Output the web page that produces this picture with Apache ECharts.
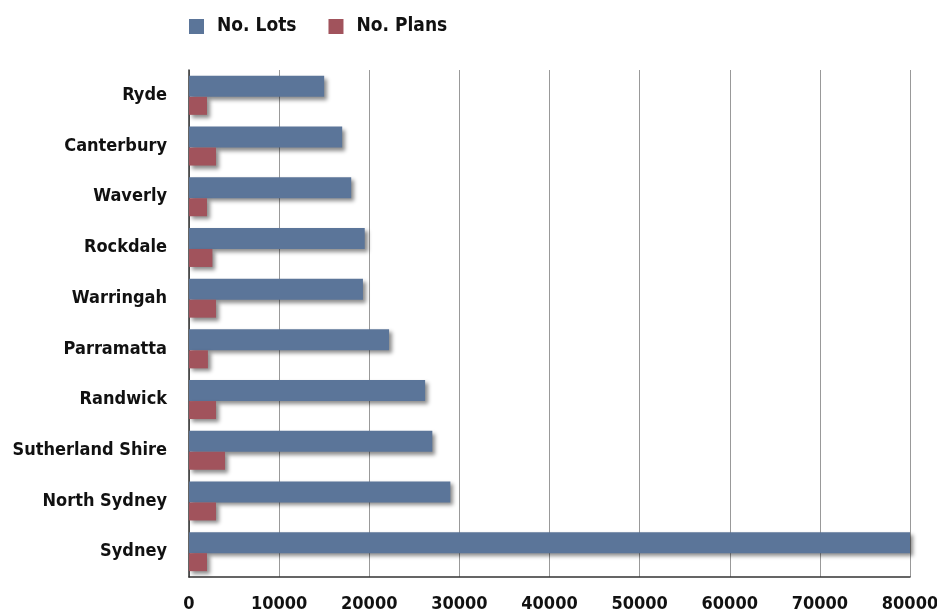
<!DOCTYPE html>
<html><head><meta charset="utf-8">
<script src="https://cdn.jsdelivr.net/npm/echarts@6/dist/echarts.min.js"></script>
<style>html,body{margin:0;padding:0;background:#fff}#c{width:937px;height:613px}</style>
</head><body><div id="c"></div>
<script>
const categories = ['Ryde','Canterbury','Waverly','Rockdale','Warringah','Parramatta','Randwick','Sutherland Shire','North Sydney','Sydney'];
const lots = [15000,17000,18000,19500,19300,22200,26200,27000,29000,80000];
const plans = [2000,3000,2000,2600,3000,2100,3000,4000,3000,2000];
const xTicks = [0,10000,20000,30000,40000,50000,60000,70000,80000];

const FONT = '"DejaVu Sans Condensed","Liberation Sans Narrow",sans-serif';
const chart = echarts.init(document.getElementById('c'));
const shadow = {shadowColor:'rgba(0,0,0,0.45)',shadowBlur:4,shadowOffsetX:3,shadowOffsetY:3};
chart.setOption({
  animation:false,
  legend:{top:12,left:184,itemWidth:15,itemHeight:15,itemGap:32,
    textStyle:{fontFamily:FONT,fontWeight:'bold',fontSize:19,color:'#111',padding:[0,0,0,8]},
    data:[{name:'No. Lots',icon:'rect'},{name:'No. Plans',icon:'rect'}]},
  grid:{left:189,right:27,top:70,bottom:36,containLabel:false,outerBoundsMode:'none'},
  xAxis:{type:'value',min:xTicks[0],max:xTicks[xTicks.length-1],interval:10000,
    axisLine:{show:true,lineStyle:{color:'#333',width:1.5}},axisTick:{show:false},
    splitLine:{show:true,lineStyle:{color:'#999',width:1}},
    axisLabel:{fontFamily:FONT,fontWeight:'bold',fontSize:18,color:'#111',margin:18,
      formatter:v=>String(v)}},
  yAxis:{type:'category',data:categories,inverse:true,
    axisLine:{show:true,lineStyle:{color:'#333',width:1.5}},axisTick:{show:false},
    axisLabel:{fontFamily:FONT,fontWeight:'bold',fontSize:18,color:'#111',margin:22}},
  series:[
    {name:'No. Lots',type:'bar',data:lots,barWidth:21,barGap:'0%',
      itemStyle:Object.assign({color:'#5b7599'},shadow)},
    {name:'No. Plans',type:'bar',data:plans,barWidth:18,
      itemStyle:Object.assign({color:'#a1535c'},shadow)}
  ]
});
</script></body></html>
